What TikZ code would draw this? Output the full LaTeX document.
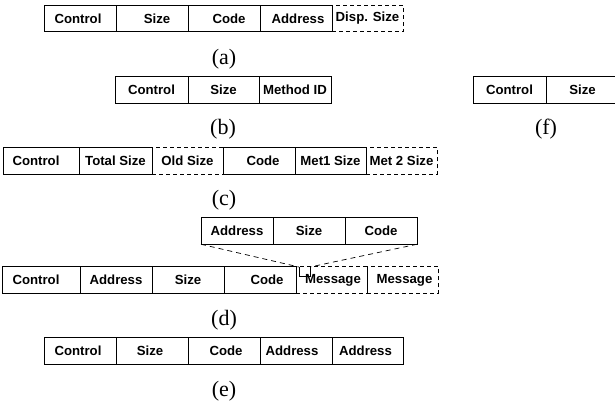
\documentclass[tikz,border=0pt]{standalone}
\usepackage{fontspec}
\setmainfont{Liberation Serif}
\setsansfont{Liberation Sans}
\usetikzlibrary{positioning}
\tikzset{
    cell/.style={rectangle, draw, line width=1pt, inner sep=0pt, outer sep=0pt, minimum height=26.5pt, font=\sffamily\bfseries\fontsize{13.2}{15}\selectfont},
    dcell/.style={cell, dash pattern=on 4pt off 3pt},
    caption/.style={font=\fontsize{22}{24}\selectfont},
    funnel/.style={line width=0.7pt, dash pattern=on 5pt off 4pt}
}
\newcommand{\nudge}[1]{\hspace*{#1}}

\begin{document}
\begin{tikzpicture}[x=1pt, y=-1pt, node distance=0pt]
    \useasboundingbox (0,0) rectangle (615,410);

    % (a)
    \node (a1) [cell, minimum width=72pt, anchor=west] at (44,18.5) {Control\nudge{4pt}};
    \node (a2) [cell, minimum width=72pt, right=of a1] {\nudge{10pt}Size};
    \node (a3) [cell, minimum width=72pt, right=of a2] {\nudge{10pt}Code};
    \node (a4) [cell, minimum width=72pt, right=of a3] {\nudge{4pt}Address};
    \node (a5) [dcell, minimum width=71pt, right=of a4] {Disp. Size};
    \node (a_label) [caption] at (224,59) {(a)};

    % (b)
    \node (b1) [cell, minimum width=73pt, anchor=west] at (115,90) {Control};
    \node (b2) [cell, minimum width=71pt, right=of b1] {Size};
    \node (b3) [cell, minimum width=72pt, right=of b2] {Method ID};
    \node (b_label) [caption] at (223,129) {(b)};

    % (f)
    \node (f1) [cell, minimum width=73pt, anchor=west] at (473,90) {Control};
    \node (f2) [cell, minimum width=73pt, right=of f1] {Size};
    \node (f_label) [caption] at (546,129) {(f)};

    % (c)
    \node (c1) [cell, minimum width=76pt, anchor=west] at (3,161) {Control\nudge{10pt}};
    \node (c2) [cell, minimum width=73pt, right=of c1] {Total Size};
    \node (c3) [dcell, minimum width=71pt, right=of c2] {Old Size};
    \node (c4) [cell, minimum width=72pt, right=of c3] {\nudge{8pt}Code};
    \node (c5) [cell, minimum width=71pt, right=of c4] {Met1 Size};
    \node (c6) [dcell, minimum width=71pt, right=of c5] {Met 2 Size};
    \draw [line width=1pt] (c3.north east) -- (c3.south east);
    \node (c_label) [caption] at (224,200) {(c)};

    % (d)
    \node (dt1) [cell, minimum width=72pt, anchor=west] at (201,231) {Address};
    \node (dt2) [cell, minimum width=72pt, right=of dt1] {Size};
    \node (dt3) [cell, minimum width=72pt, right=of dt2] {Code};

    \node (d1) [cell, minimum width=78pt, anchor=west] at (2,280) {Control\nudge{10pt}};
    \node (d2) [cell, minimum width=72pt, right=of d1] {Address};
    \node (d3) [cell, minimum width=72pt, right=of d2] {Size};
    \node (d4) [cell, minimum width=72pt, right=of d3] {\nudge{14pt}Code};
    \node (d5) [dcell, minimum width=71pt, right=of d4] {\nudge{3pt}Message};
    \node (d6) [dcell, minimum width=71pt, right=of d5] {\nudge{4pt}Message};
    \draw [line width=1pt] (d4.north east) -- (d4.south east);

    % zoom marker
    \coordinate (mark_l) at (299,267);
    \coordinate (mark_r) at (310,267);
    \draw [line width=1pt] (mark_l) -- ++(0,9) -| (mark_r);
    \draw [funnel] (dt1.south west) -- (mark_l);
    \draw [funnel] (dt3.south east) -- (mark_r);
    \node (d_label) [caption] at (224,320) {(d)};

    % (e)
    \node (e1) [cell, minimum width=72pt, anchor=west] at (44,351) {Control\nudge{4pt}};
    \node (e2) [cell, minimum width=72pt, right=of e1] {Size\nudge{4pt}};
    \node (e3) [cell, minimum width=72pt, right=of e2] {\nudge{4pt}Code};
    \node (e4) [cell, minimum width=72pt, right=of e3] {Address\nudge{8pt}};
    \node (e5) [cell, minimum width=71pt, right=of e4] {Address\nudge{4pt}};
    \node (e_label) [caption] at (224,391) {(e)};

\end{tikzpicture}
\end{document}
